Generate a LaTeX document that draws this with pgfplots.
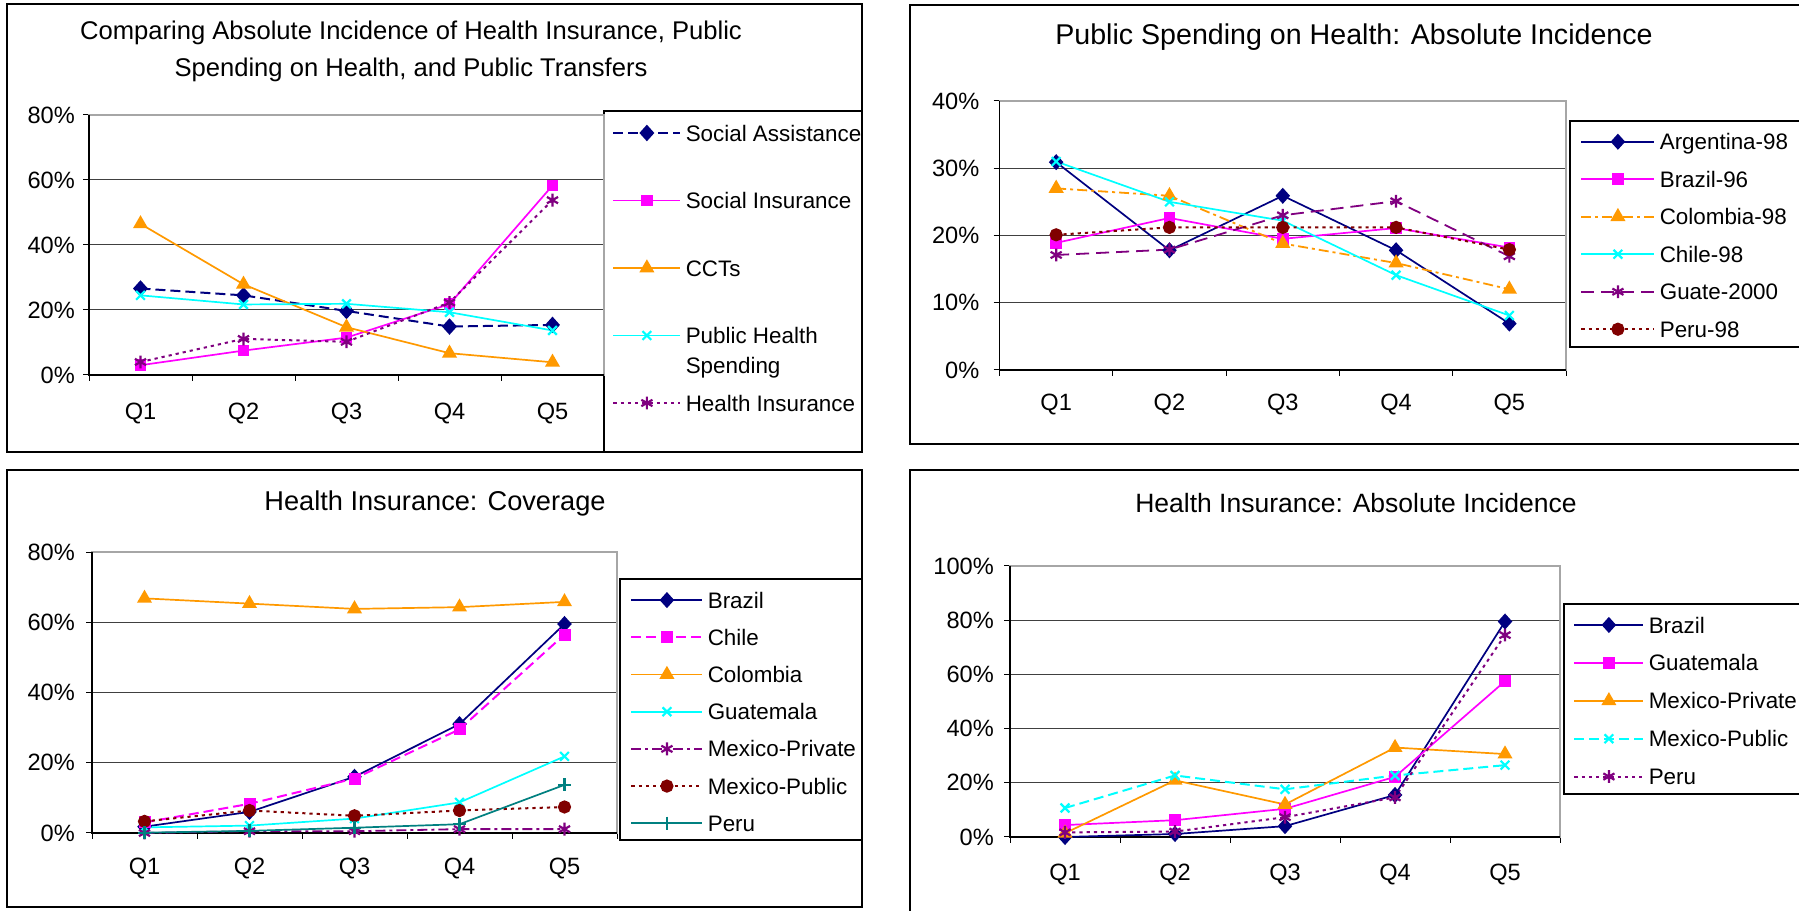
\documentclass[border=0pt]{standalone}
\usepackage{fontspec}
\setmainfont{Liberation Sans}
\usepackage{pgfplots}
\pgfplotsset{compat=1.18}
\definecolor{xnavy}{RGB}{0,0,128}
\definecolor{xmag}{RGB}{255,0,255}
\definecolor{xorange}{RGB}{255,153,0}
\definecolor{xcyan}{RGB}{0,255,255}
\definecolor{xpurple}{RGB}{128,0,128}
\definecolor{xdred}{RGB}{128,0,0}
\definecolor{xteal}{RGB}{0,128,128}
\newcommand{\tickfont}{\fontsize{11.8bp}{14bp}\selectfont}
\newcommand{\legfont}{\fontsize{11.2bp}{14bp}\selectfont}
\newcommand{\titfont}[1]{\fontsize{#1}{18.5bp}\selectfont}
\pgfplotsset{
  xl/.style={
    scale only axis, anchor=south west, clip=false,
    xmin=0.5, xmax=5.5,
    xtick={0.5,1.5,2.5,3.5,4.5,5.5},
    xticklabels={,,,,,},
    extra x ticks={1,2,3,4,5},
    extra x tick labels={Q1,Q2,Q3,Q4,Q5},
    tick align=outside, tick pos=left,
    major tick length=3bp,
    tick style={black, line width=0.5bp},
    tick label style={font=\tickfont},
    ymajorgrids,
    major grid style={black!75, line width=0.5bp},
    axis line style={gray!70, line width=0.6bp},
    legend cell align=left,
    every axis plot/.append style={line width=0.85bp},
  },
  lgd/.style={draw=none, fill=none, inner sep=0pt, anchor=west, column sep=2.2bp,
    font=\legfont, nodes={inner sep=0pt, text height=8.1bp, text depth=0pt}},
  sdia/.style={mark=diamond*, mark size=3.4bp, mark options={solid, xscale=1.2}},
  ssq/.style={mark=square*, mark size=2.5bp, mark options={solid}},
  stri/.style={mark=triangle*, mark size=3.5bp, mark options={solid}},
  sx/.style={mark=x, mark size=3.1bp, mark options={solid, line width=1.1bp}},
  sst/.style={mark=asterisk, mark size=3.2bp, mark options={solid, line width=1.1bp}},
  scir/.style={mark=*, mark size=2.8bp, mark options={solid}},
  splus/.style={mark=+, mark size=3.3bp, mark options={solid, line width=1.1bp}},
  xdash/.style={dash pattern=on 5bp off 2.5bp, line width=1bp},
  xldash/.style={dash pattern=on 6.5bp off 3.5bp, line width=0.9bp},
  xdot/.style={dash pattern=on 1.6bp off 2bp, line width=1bp},
  xdashdot/.style={dash pattern=on 5bp off 2bp on 1.5bp off 2bp, line width=0.9bp},
}
\begin{document}
\begin{tikzpicture}[x=1bp,y=1bp]
\path[use as bounding box, fill=white] (0,0) rectangle (899.5,455.5);
% frames
\draw[black, line width=0.75bp] (3.5,229.5) rectangle (431,453.5);
\draw[black, line width=0.75bp] (455,233.5) rectangle (901,453);
\draw[black, line width=0.75bp] (3.5,2) rectangle (431,220.5);
\draw[black, line width=0.75bp] (455,-2) rectangle (901,220.5);
% legend boxes
\draw[black, line width=0.6bp] (302,229.5) rectangle (431,400);
\draw[black, line width=0.6bp] (785,282) rectangle (901,395);
\draw[black, line width=0.6bp] (310,35.5) rectangle (431,166);
\draw[black, line width=0.6bp] (782,58.5) rectangle (901,153.5);
% titles
\node[font=\titfont{12.8bp}, align=center] at (205.5,429.75) {Comparing Absolute Incidence of Health Insurance, Public\\Spending on Health, and Public Transfers};
\node[font=\titfont{14.3bp}] at (677,437) {Public Spending on Health: Absolute Incidence};
\node[font=\titfont{13.6bp}] at (217.5,204) {Health Insurance: Coverage};
\node[font=\titfont{13.25bp}] at (678,204) {Health Insurance: Absolute Incidence};

% ---------- Panel 1 ----------
\begin{axis}[xl, at={(44.5bp,268bp)}, width=257.5bp, height=130bp,
  ymin=0, ymax=80, ytick={0,20,40,60,80}, yticklabels={0\%,20\%,40\%,60\%,80\%},
  extra x tick style={major tick length=0pt, xticklabel style={yshift=-10.3bp}},
  yticklabel style={xshift=-0.6bp},
  legend style={lgd, at={(1.0155,0.4115)}, row sep=25.65bp},
  legend image code/.code={\draw[mark repeat=2,mark phase=2,#1] plot coordinates {(0bp,0bp) (16.75bp,0bp) (33.5bp,0bp)};},
]
\draw[black, line width=0.6bp] (rel axis cs:0,1) -- (rel axis cs:0,0) -- (rel axis cs:1,0);
\addplot[color=xnavy, sdia, xdash] coordinates {(1,26.6)(2,24.5)(3,19.7)(4,14.9)(5,15.4)};
\addlegendentry{Social Assistance}
\addplot[color=xmag, ssq] coordinates {(1,3.0)(2,7.5)(3,11.5)(4,21.8)(5,58.3)};
\addlegendentry{Social Insurance}
\addplot[color=xorange, stri] coordinates {(1,46.5)(2,27.9)(3,14.7)(4,6.7)(5,3.9)};
\addlegendentry{CCTs}
\addplot[color=xcyan, sx] coordinates {(1,24.5)(2,21.7)(3,21.9)(4,19.3)(5,13.7)};
\addlegendentry{\smash{\rlap{\raisebox{-15bp}{Spending}}}Public Health}
\addplot[color=xpurple, sst, xdot] coordinates {(1,4.0)(2,11.1)(3,10.2)(4,22.3)(5,53.8)};
\addlegendentry{Health Insurance}
\end{axis}

% ---------- Panel 2 ----------
\begin{axis}[xl, at={(499.75bp,270.5bp)}, width=283.25bp, height=134.5bp,
  ymin=0, ymax=40, ytick={0,10,20,30,40}, yticklabels={0\%,10\%,20\%,30\%,40\%},
  extra x tick style={major tick length=0pt, xticklabel style={yshift=-8.3bp}},
  yticklabel style={xshift=-3.6bp},
  legend style={lgd, at={(1.0247,0.5)}, row sep=10.65bp},
  legend image code/.code={\draw[mark repeat=2,mark phase=2,#1] plot coordinates {(0bp,0bp) (18.25bp,0bp) (36.5bp,0bp)};},
]
\draw[black, line width=0.6bp] (rel axis cs:0,1) -- (rel axis cs:0,0) -- (rel axis cs:1,0);
\addplot[color=xnavy, sdia] coordinates {(1,30.9)(2,17.8)(3,25.9)(4,17.8)(5,6.9)};
\addlegendentry{Argentina-98}
\addplot[color=xmag, ssq] coordinates {(1,18.9)(2,22.6)(3,19.5)(4,21.1)(5,18.2)};
\addlegendentry{Brazil-96}
\addplot[color=xorange, stri, xdashdot] coordinates {(1,27.0)(2,25.9)(3,18.8)(4,15.9)(5,12.0)};
\addlegendentry{Colombia-98}
\addplot[color=xcyan, sx] coordinates {(1,31.0)(2,25.0)(3,22.2)(4,14.1)(5,8.1)};
\addlegendentry{Chile-98}
\addplot[color=xpurple, sst, xldash] coordinates {(1,17.1)(2,17.9)(3,23.0)(4,25.1)(5,16.9)};
\addlegendentry{Guate-2000}
\addplot[color=xdred, scir, xdot] coordinates {(1,20.1)(2,21.2)(3,21.2)(4,21.2)(5,17.9)};
\addlegendentry{Peru-98}
\end{axis}

% ---------- Panel 3 ----------
\begin{axis}[xl, at={(46bp,39bp)}, width=262.5bp, height=140.5bp,
  ymin=0, ymax=80, ytick={0,20,40,60,80}, yticklabels={0\%,20\%,40\%,60\%,80\%},
  extra x tick style={major tick length=0pt, xticklabel style={yshift=-8.8bp}},
  yticklabel style={xshift=-2.1bp},
  legend style={lgd, at={(1.0248,0.4317)}, row sep=10.5bp},
  legend image code/.code={\draw[mark repeat=2,mark phase=2,#1] plot coordinates {(0bp,0bp) (17.75bp,0bp) (35.5bp,0bp)};},
]
\draw[black, line width=0.6bp] (rel axis cs:0,1) -- (rel axis cs:0,0) -- (rel axis cs:1,0);
\addplot[color=xnavy, sdia] coordinates {(1,1.8)(2,6.0)(3,16.0)(4,31.0)(5,59.5)};
\addlegendentry{Brazil}
\addplot[color=xmag, ssq, xdash] coordinates {(1,3.0)(2,8.3)(3,15.5)(4,29.5)(5,56.5)};
\addlegendentry{Chile}
\addplot[color=xorange, stri] coordinates {(1,66.8)(2,65.3)(3,63.8)(4,64.3)(5,65.8)};
\addlegendentry{Colombia}
\addplot[color=xcyan, sx] coordinates {(1,1.6)(2,2.1)(3,4.1)(4,8.7)(5,21.8)};
\addlegendentry{Guatemala}
\addplot[color=xpurple, sst, xdashdot] coordinates {(1,0.0)(2,0.5)(3,0.5)(4,1.1)(5,1.1)};
\addlegendentry{Mexico-Private}
\addplot[color=xdred, scir, xdot] coordinates {(1,3.3)(2,6.4)(3,4.9)(4,6.4)(5,7.4)};
\addlegendentry{Mexico-Public}
\addplot[color=xteal, splus] coordinates {(1,0.1)(2,0.6)(3,1.5)(4,2.5)(5,13.7)};
\addlegendentry{Peru}
\end{axis}

% ---------- Panel 4 ----------
\begin{axis}[xl, at={(505bp,37bp)}, width=275bp, height=135.5bp,
  ymin=0, ymax=100, ytick={0,20,40,60,80,100}, yticklabels={0\%,20\%,40\%,60\%,80\%,100\%},
  extra x tick style={major tick length=0pt, xticklabel style={yshift=-9.8bp}},
  yticklabel style={xshift=-1.6bp},
  legend style={lgd, at={(1.0236,0.5026)}, row sep=10.85bp},
  legend image code/.code={\draw[mark repeat=2,mark phase=2,#1] plot coordinates {(0bp,0bp) (17.25bp,0bp) (34.5bp,0bp)};},
]
\draw[black, line width=0.6bp] (rel axis cs:0,1) -- (rel axis cs:0,0) -- (rel axis cs:1,0);
\addplot[color=xnavy, sdia] coordinates {(1,0.0)(2,1.1)(3,4.0)(4,15.5)(5,79.5)};
\addlegendentry{Brazil}
\addplot[color=xmag, ssq] coordinates {(1,4.4)(2,6.2)(3,10.4)(4,22.2)(5,57.5)};
\addlegendentry{Guatemala}
\addplot[color=xorange, stri] coordinates {(1,1.4)(2,20.9)(3,12.0)(4,33.0)(5,30.6)};
\addlegendentry{Mexico-Private}
\addplot[color=xcyan, sx, xdash] coordinates {(1,10.7)(2,22.7)(3,17.6)(4,22.7)(5,26.5)};
\addlegendentry{Mexico-Public}
\addplot[color=xpurple, sst, xdot] coordinates {(1,1.7)(2,2.0)(3,7.3)(4,14.6)(5,74.5)};
\addlegendentry{Peru}
\end{axis}
\end{tikzpicture}
\end{document}
